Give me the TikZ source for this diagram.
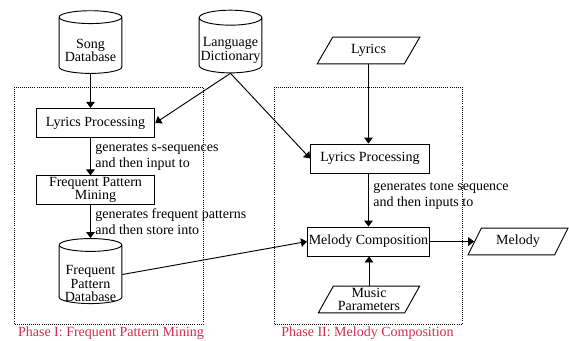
\documentclass[tikz,border=0pt]{standalone}
\usepackage{fontspec}
\setmainfont{Liberation Serif}
\usetikzlibrary{positioning,shapes.geometric,arrows.meta}
\definecolor{phasered}{RGB}{214,44,78}

\begin{document}
\begin{tikzpicture}[x=0.75pt,y=-0.75pt,
	font=\fontsize{10.5}{10}\selectfont, line width=0.7pt,
	boxstyle/.style={rectangle, draw, minimum width=89pt,
	minimum height=22pt, inner sep=1pt, align=center},
	dbstyle/.style={cylinder, draw, shape border rotate=90, aspect=0.25,
	minimum width=47pt, minimum height=47pt, inner sep=0pt, align=center},
	dbtext/.style 2 args={label={[align=center, yshift=#1]center:#2}},
	iostyle/.style={trapezium, trapezium left angle=60,
	trapezium right angle=120, trapezium stretches=true, draw,
	minimum width=77pt, minimum height=20pt, inner sep=0.5pt, align=center},
	linestyle/.style={-{Triangle[width=6.5pt,length=4.5pt]}},
	labelstyle/.style={right, align=left, inner sep=3.3pt,
	font=\fontsize{10.5}{12}\selectfont},
	framestyle/.style={densely dotted, line width=0.55pt},
	phasestyle/.style={text=phasered}
	]
	\useasboundingbox (0,0) rectangle (569,340);
	% phase frames
	\draw[framestyle] (14,87) rectangle (203,324);
	\draw[framestyle] (274,87) rectangle (462,324);
	\draw(111,333)node[phasestyle] (phaseone) {Phase I: Frequent Pattern Mining};
	\draw(367.5,333)node[phasestyle] (phasetwo) {Phase II: Melody Composition};
	% phase I
	\draw(90.5,45.5)node[dbstyle, dbtext={-3.6pt}{Song\\Database}] (songdb)
	{\phantom{Song}\\\phantom{Database}};
	\draw(230.5,45.5)node[dbstyle, dbtext={-3.6pt}{Language\\Dictionary}] (langdict)
	{\phantom{Language}\\\phantom{Dictionary}};
	\draw(95.5,123)node[boxstyle] (lpone) {Lyrics Processing};
	\draw(95.5,190)node[boxstyle, minimum height=21pt] (fpm) {Frequent Pattern\\Mining};
	\draw(90.5,274.5)node[dbstyle, minimum height=48.75pt,
	dbtext={-6.75pt}{Frequent\\Pattern\\Database}] (fpdb)
	{\phantom{Frequent}\\\phantom{Pattern}\\\phantom{Database}};
	% phase II
	\draw(368.5,50.5)node[iostyle] (lyrics) {Lyrics};
	\draw(370,158.5)node[boxstyle, minimum height=21.75pt] (lptwo) {Lyrics Processing};
	\draw(368.5,241.5)node[boxstyle, minimum height=21.75pt] (mc) {Melody Composition};
	\draw(518,241.5)node[iostyle, minimum width=75pt] (melody) {Melody};
	\draw(369,299.5)node[iostyle, minimum width=76.5pt,
	font=\fontsize{10.5}{9.2}\selectfont] (musicp) {Music\\Parameters};
	% connectors
	\draw[linestyle] (songdb.south) -- (songdb.south |- lpone.north);
	\draw[linestyle] (songdb.south |- lpone.south) to 
	node[labelstyle] {generates s-sequences\\and then input to}
	(songdb.south |- fpm.north);
	\draw[linestyle] (songdb.south |- fpm.south) to 
	node[labelstyle] {generates frequent patterns\\and then store into}
	(fpdb.north);
	\draw[linestyle] (langdict.south) -- (lpone.east);
	\draw[linestyle] (langdict.south) -- (lptwo.west);
	\draw[linestyle] (fpdb.east) -- (mc.west);
	\draw[linestyle] (lyrics.south) -- (lyrics.south |- lptwo.north);
	\draw[linestyle] (lptwo.south -| mc.north) to 
	node[labelstyle, pos=0.42] {generates tone sequence\\and then inputs to}
	(mc.north);
	\draw[linestyle] (musicp.north) -- (musicp.north |- mc.south);
	\draw[linestyle] (mc.east) -- (melody.west);
\end{tikzpicture}
\end{document}
